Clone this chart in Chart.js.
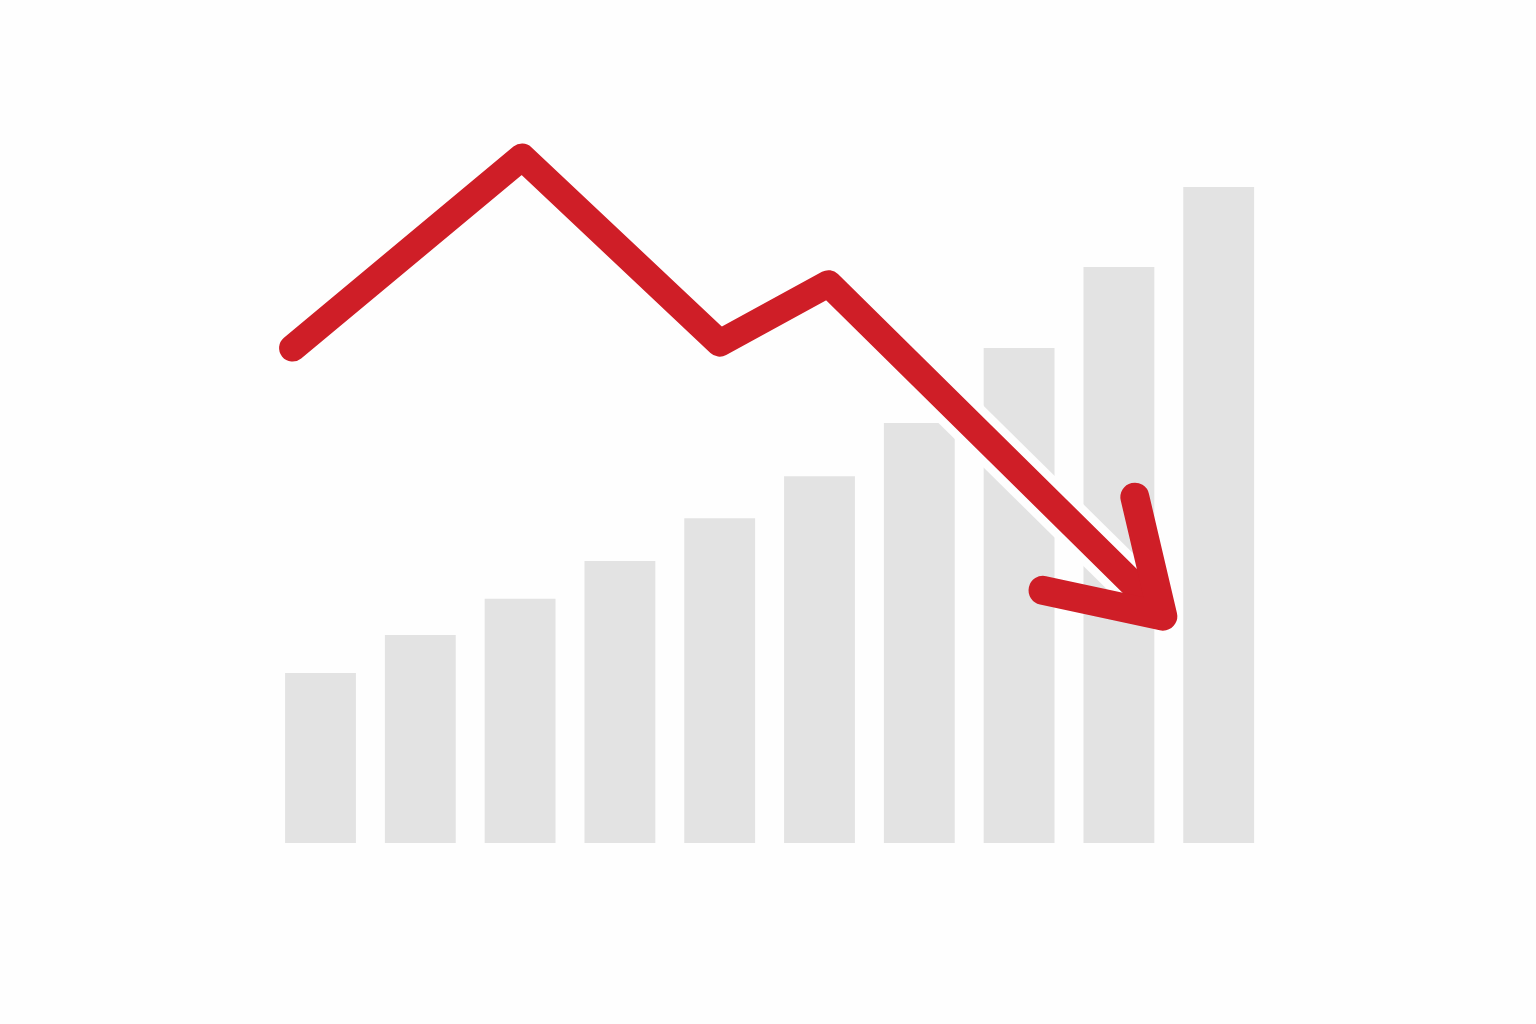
<!DOCTYPE html>
<html>
<head>
<meta charset="utf-8">
<script src="https://cdn.jsdelivr.net/npm/chart.js@4/dist/chart.umd.min.js"></script>
<style>
  html, body { margin: 0; padding: 0; background: #fefefe; }
  #wrap { width: 1536px; height: 1024px; }
</style>
</head>
<body>
<div id="wrap"><canvas id="chart"></canvas></div>
<script>
// Bars (growing), values on a 0..100 scale
const categories = ['1', '2', '3', '4', '5', '6', '7', '8', '9', '10'];
const barValues = [24.3, 29.7, 34.9, 40.3, 46.4, 52.4, 60.0, 70.7, 82.3, 93.7];

// Falling trend line, x in category units (0..10)
const trendX = [0.22, 2.52, 4.50, 5.59, 8.86];
const trendY = [70.7, 98.0, 71.4, 79.9, 33.9];

// Arrow head: arm, tip, arm
const headX = [8.66, 8.94, 7.74];
const headY = [49.4, 32.4, 36.1];

const pts = (xs, ys) => xs.map((x, i) => ({ x: x, y: ys[i] }));
const red = '#cf1e27';

new Chart(document.getElementById('chart'), {
  type: 'bar',
  data: {
    labels: categories,
    datasets: [
      {
        type: 'bar',
        data: barValues,
        backgroundColor: '#e3e3e3',
        grouped: false,
        barPercentage: 0.71,
        categoryPercentage: 1,
        order: 3
      },
      {
        // white halo under the shaft
        type: 'line',
        xAxisID: 'x2',
        data: pts(trendX.slice(3), trendY.slice(3)),
        borderColor: '#fefefe',
        borderWidth: 44,
        borderCapStyle: 'butt',
        pointRadius: 0,
        clip: false,
        order: 2
      },
      {
        type: 'line',
        xAxisID: 'x2',
        data: pts(trendX, trendY),
        borderColor: red,
        borderWidth: 27,
        borderCapStyle: 'round',
        borderJoinStyle: 'round',
        pointRadius: 0,
        clip: false,
        order: 1
      },
      {
        type: 'line',
        xAxisID: 'x2',
        data: pts(headX, headY),
        borderColor: red,
        borderWidth: 29,
        borderCapStyle: 'round',
        borderJoinStyle: 'round',
        pointRadius: 0,
        clip: false,
        order: 0
      }
    ]
  },
  options: {
    responsive: true,
    maintainAspectRatio: false,
    animation: false,
    layout: { padding: { left: 270.6, right: 267.4, top: 143, bottom: 181 } },
    plugins: { legend: { display: false }, tooltip: { enabled: false } },
    scales: {
      x: { display: false },
      x2: { type: 'linear', display: false, offset: false, grid: { offset: false }, min: 0, max: 10 },
      y: { display: false, min: 0, max: 100 }
    }
  }
});
</script>
</body>
</html>
